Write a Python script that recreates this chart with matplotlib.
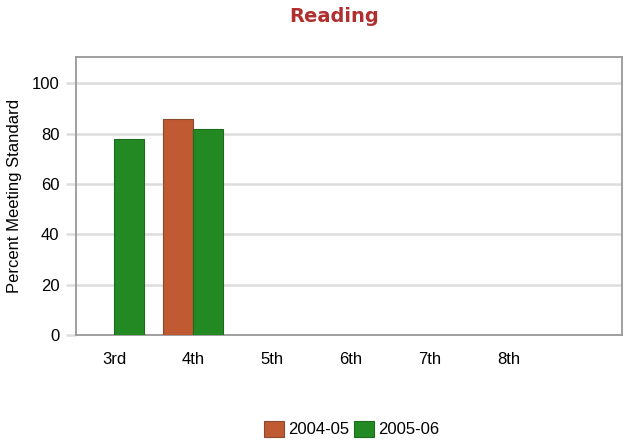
import matplotlib.pyplot as plt
import numpy as np

plt.rcParams['font.family'] = ['Liberation Sans', 'DejaVu Sans']

grades = ['3rd', '4th', '5th', '6th', '7th', '8th']
years = ['2004-05', '2005-06']
pct_0405 = [np.nan, 86, np.nan, np.nan, np.nan, np.nan]
pct_0506 = [78, 82, np.nan, np.nan, np.nan, np.nan]
colors = ['#bf5a33', '#238a23']
edges = ['#8a4a30', '#1e6a1e']

fig = plt.figure(figsize=(6.24, 4.45), dpi=100)
ax = fig.add_axes([0.122, 0.247, 0.875, 0.625])

x = np.arange(len(grades))
w = 0.38
for vals, off, c, ec, lab in zip([pct_0405, pct_0506], [-w / 2, w / 2], colors, edges, years):
    ax.bar(x + off, vals, w, color=c, edgecolor=ec, linewidth=0.8, label=lab, zorder=3)

ax.set_xlim(-0.48, 6.43)
ax.set_ylim(0, 110.5)
ax.set_yticks(range(0, 101, 20))
ax.set_xticks(x)
ax.set_xticklabels(grades)
ax.yaxis.grid(True, color='#dddddd', linewidth=1.8, zorder=0)
ax.tick_params(axis='y', length=7, color='#dddddd', width=1.8, labelsize=12, pad=5)
ax.tick_params(axis='x', length=0, labelsize=12, pad=12)
for s in ax.spines.values():
    s.set_color('#999999')
    s.set_linewidth(1.3)

ax.set_ylabel('Percent Meeting Standard', fontsize=12, labelpad=7)
fig.text(0.535, 0.962, 'Reading', color='#b03030', fontsize=14, fontweight='bold',
         family='DejaVu Sans', ha='center', va='center')
fig.legend(loc='center', bbox_to_anchor=(0.563, 0.036), ncol=2, frameon=False,
           fontsize=12, handlelength=1.2, handleheight=1.1, handletextpad=0.25,
           columnspacing=0.3)

fig.savefig('out.png', dpi=100)
